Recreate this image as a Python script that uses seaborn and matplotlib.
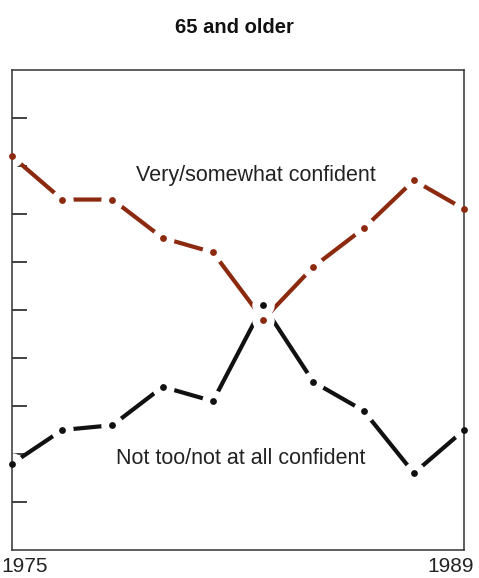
import matplotlib
matplotlib.use("Agg")
import matplotlib.pyplot as plt
import seaborn as sns
import pandas as pd

# ── Data (percent) ──────────────────────────────────────────────────
positions = list(range(10))
very_somewhat = [82, 73, 73, 65, 62, 48, 59, 67, 77, 71]
not_too = [18, 25, 26, 34, 31, 51, 35, 29, 16, 25]
year_labels = ["1975", "1989"]

RED = "#8c2a10"
BLACK = "#111111"

sns.set_style("white")
plt.rcParams["font.family"] = ["Liberation Sans", "DejaVu Sans"]

df = pd.DataFrame({"pos": positions, "very": very_somewhat, "not": not_too})

fig = plt.figure(figsize=(4.79, 5.78), dpi=100)
ax = fig.add_axes([0.025, 0.0484, 0.944, 0.8306])

for col, color in [("very", RED), ("not", BLACK)]:
    sns.lineplot(data=df, x="pos", y=col, color=color, linewidth=3.0, ax=ax, zorder=2)
    # white halo around each point leaves the gap in the line
    sns.scatterplot(data=df, x="pos", y=col, color="white", s=260, linewidth=0,
                    ax=ax, zorder=2.1, clip_on=False)
    sns.scatterplot(data=df, x="pos", y=col, color=color, s=24, linewidth=0,
                    ax=ax, zorder=3, clip_on=False)

for ln in ax.lines:
    ln.set_solid_capstyle("butt")

ax.set_xlim(positions[0], positions[-1])
ax.set_ylim(0, 100)
ax.set_yticks(range(10, 100, 10))
ax.set_yticklabels([])
ax.set_xticks([])
ax.set_xlabel("")
ax.set_ylabel("")
ax.tick_params(axis="y", direction="in", length=11, width=1.2, color="#222222", left=True)

for s in ax.spines.values():
    s.set_color("#333333")
    s.set_linewidth(1.1)
    s.set_zorder(2.5)

ax.text(4.86, 78, "Very/somewhat confident", ha="center", va="center",
        fontsize=15.5, color="#222222")
ax.text(4.55, 19, "Not too/not at all confident", ha="center", va="center",
        fontsize=15.5, color="#222222")

fig.text(0.002, 0.004, year_labels[0], ha="left", va="bottom", fontsize=15, color="#222222")
fig.text(0.99, 0.004, year_labels[1], ha="right", va="bottom", fontsize=15, color="#222222")
fig.text(0.49, 0.953, "65 and older", ha="center", va="center",
         fontsize=14.5, fontweight="bold", color="#111111")

fig.savefig("out.png", dpi=100)
